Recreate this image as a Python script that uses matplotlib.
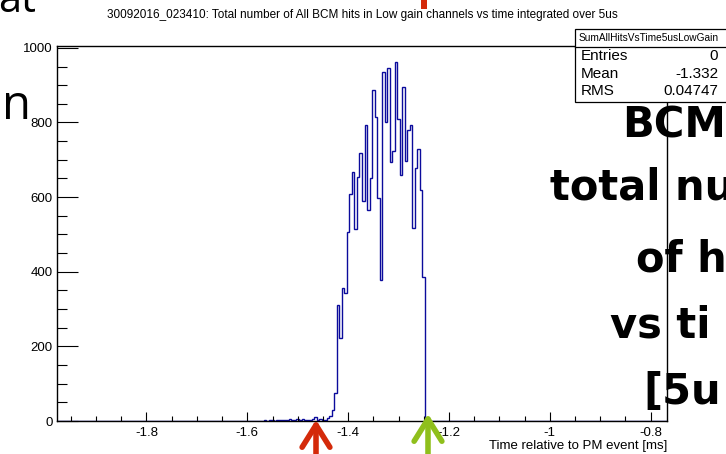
import numpy as np
import matplotlib
matplotlib.use('Agg')
import matplotlib.pyplot as plt
from matplotlib.patches import Rectangle, FancyArrowPatch
from matplotlib.ticker import MultipleLocator

W, H = 726, 454

title = '30092016_023410: Total number of All BCM hits in Low gain channels vs time integrated over 5us'
xlabel = 'Time relative to PM event [ms]'
hist_name = 'SumAllHitsVsTime5usLowGain'
stat_names = ['Entries', 'Mean', 'RMS']
stat_values = ['0', '-1.332', '0.04747']
# slide text as it shows at the right edge of the screenshot
slide_lines = ['BCM', 'total nu', 'of h', 'vs ti', '[5u']

# histogram binning (5us bins, ms units)
bin_width = 0.005
x_first = -1.9775
x_last = -0.7675
counts_start = -1.5775   # low edge of first listed bin
counts = [1, 0, 2, 1, 2, 3, 1, 3, 2, 4,
          3, 2, 5, 3, 4, 6, 3, 5, 3, 4,
          4, 6, 12, 4, 5, 4, 2, 7, 14, 29,
          74, 311, 222, 356, 342,
          507, 608, 666, 514, 653, 718, 590, 792, 565, 652,
          887, 814, 597, 378, 936, 802, 947, 695, 724, 963,
          810, 658, 895, 698, 780, 794, 516, 677, 730, 619,
          385]

n_bins = int(round((x_last - x_first) / bin_width))
edges = x_first + bin_width * np.arange(n_bins + 1)
values = np.zeros(n_bins)
off = int(round((counts_start - x_first) / bin_width))
values[off:off + len(counts)] = counts

plt.rcParams['font.family'] = ['Liberation Sans', 'DejaVu Sans']

fig = plt.figure(figsize=(W / 100, H / 100), dpi=100)
fig.patch.set_facecolor('white')


def fx(x):
    return x / W


def fy(y):
    return 1 - y / H


# axes frame in pixels: left 57, right 667, top 46, bottom 421
ax = fig.add_axes([fx(57), fy(421), (667 - 57) / W, (421 - 46) / H])
ax.stairs(values, edges, color='#0b0b9c', lw=1.0)
ax.set_xlim(x_first, x_last)
ax.set_ylim(0, 1005)

ax.xaxis.set_major_locator(MultipleLocator(0.2))
ax.xaxis.set_minor_locator(MultipleLocator(0.05))
ax.yaxis.set_major_locator(MultipleLocator(200))
ax.yaxis.set_minor_locator(MultipleLocator(50))
ax.xaxis.set_major_formatter(plt.FuncFormatter(lambda v, p: '%g' % round(v, 2)))
ax.tick_params(axis='x', which='major', direction='in', length=6.5, width=0.8,
               labelsize=9.5, pad=4, top=False)
ax.tick_params(axis='x', which='minor', direction='in', length=3.5, width=0.8, top=False)
ax.tick_params(axis='y', which='major', direction='in', length=15, width=0.8,
               labelsize=9.5, pad=3, right=False)
ax.tick_params(axis='y', which='minor', direction='in', length=7, width=0.8, right=False)
for s in ax.spines.values():
    s.set_linewidth(1.0)

ax.set_xlabel(xlabel, fontsize=9.5, loc='right', labelpad=1)

fig.text(fx(362), fy(15), title, fontsize=8.5, ha='center', va='center')

# stats box
box = Rectangle((fx(575), fy(102)), fx(726 - 575 + 5), (102 - 29) / H,
                transform=fig.transFigure, facecolor='white', edgecolor='black',
                lw=0.9, zorder=5)
fig.add_artist(box)
fig.add_artist(plt.Line2D([fx(575), fx(730)], [fy(46.5), fy(46.5)],
                          transform=fig.transFigure, color='black', lw=0.9, zorder=6))
fig.text(fx(649), fy(38), hist_name, fontsize=7.3, ha='center', va='center', zorder=7)
row_y = [56, 73.5, 91]
for name, val, yy in zip(stat_names, stat_values, row_y):
    fig.text(fx(581), fy(yy), name, fontsize=11, ha='left', va='center', zorder=7)
    fig.text(fx(718), fy(yy), val, fontsize=11, ha='right', va='center', zorder=7)

# slide overlay text
big = dict(family=['DejaVu Sans'], fontweight='bold', fontsize=30,
           color='black', zorder=10)
slide_pos = [(622, 137), (550, 200), (636, 272), (610, 337), (643, 404)]
for txt, (px, py) in zip(slide_lines, slide_pos):
    fig.text(fx(px), fy(py), txt, ha='left', va='baseline', **big)
fig.text(fx(2), fy(119), 'n', family=['Open Sans', 'DejaVu Sans'], fontsize=34,
         ha='left', va='baseline', zorder=10)
fig.text(fx(-2), fy(12), 'at', family=['Open Sans', 'DejaVu Sans'], fontsize=30,
         ha='left', va='baseline', zorder=10)
fig.add_artist(Rectangle((fx(421), fy(9)), fx(6), 9 / H, transform=fig.transFigure,
                         facecolor='#d42a0a', edgecolor='none', zorder=10))

# arrows
for ax_x, tip_y, col in [(316, 417, '#d42a0a'), (428, 411, '#8fbf1c')]:
    fig.add_artist(FancyArrowPatch(
        (ax_x, -10), (ax_x, H - tip_y), transform=None,
        arrowstyle='->,head_length=0.8,head_width=0.5', mutation_scale=20,
        color=col, lw=4, capstyle='round', joinstyle='round', zorder=10))

fig.savefig('out.png', dpi=100)
